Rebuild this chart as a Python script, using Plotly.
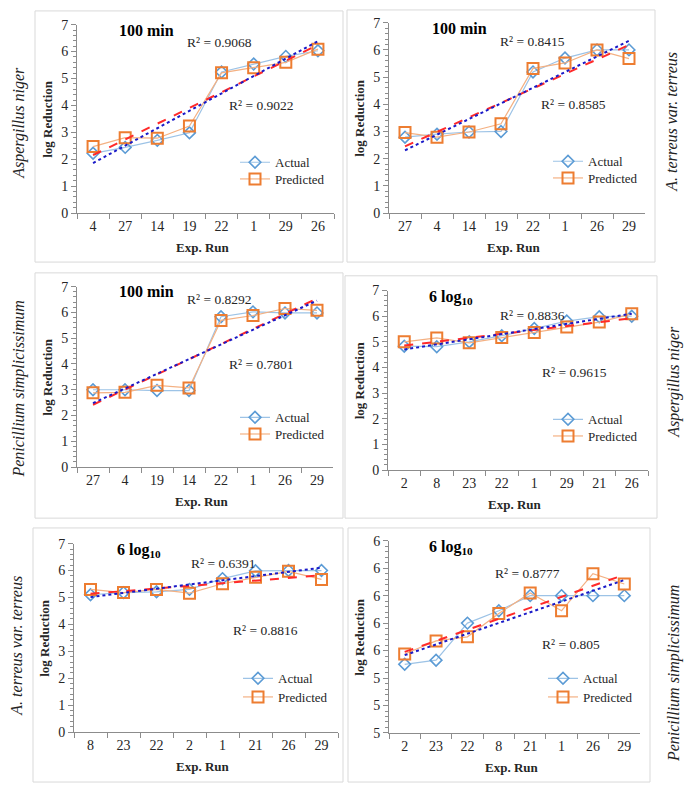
import numpy as np
import plotly.graph_objects as go

W, H = 685, 792

# ---------------- data ----------------
runs_p1 = ["4", "27", "14", "19", "22", "1", "29", "26"]
actual_p1 = [2.22, 2.44, 2.70, 2.98, 5.24, 5.54, 5.82, 6.03]
pred_p1 = [2.47, 2.80, 2.78, 3.23, 5.21, 5.40, 5.60, 6.09]

runs_p2 = ["27", "4", "14", "19", "22", "1", "26", "29"]
actual_p2 = [2.79, 2.90, 2.98, 3.00, 5.19, 5.70, 6.00, 6.00]
pred_p2 = [2.96, 2.79, 2.98, 3.28, 5.32, 5.52, 6.00, 5.68]

runs_p3 = ["27", "4", "19", "14", "22", "1", "26", "29"]
actual_p3 = [3.00, 3.00, 2.97, 2.97, 5.83, 6.02, 5.98, 5.98]
pred_p3 = [2.88, 2.90, 3.17, 3.07, 5.69, 5.88, 6.15, 6.08]

runs_p4 = ["2", "8", "23", "22", "1", "29", "21", "26"]
actual_p4 = [4.83, 4.81, 5.00, 5.24, 5.52, 5.81, 5.98, 6.00]
pred_p4 = [5.00, 5.15, 4.96, 5.17, 5.36, 5.58, 5.77, 6.09]

runs_p5 = ["8", "23", "22", "2", "1", "21", "26", "29"]
actual_p5 = [5.10, 5.18, 5.21, 5.30, 5.70, 5.99, 6.00, 6.00]
pred_p5 = [5.30, 5.18, 5.30, 5.16, 5.51, 5.75, 5.97, 5.67]

runs_p6 = ["2", "23", "22", "8", "21", "1", "26", "29"]
actual_p6 = [5.50, 5.53, 5.80, 5.89, 6.00, 6.00, 6.00, 6.00]
pred_p6 = [5.575, 5.67, 5.70, 5.87, 6.02, 5.89, 6.16, 6.085]

titles = ["<b>100 min</b>", "<b>100 min</b>", "<b>100 min</b>",
          "<b>6 log<sub>10</sub></b>", "<b>6 log<sub>10</sub></b>", "<b>6 log<sub>10</sub></b>"]
r2_upper = ["R² = 0.9068", "R² = 0.8415", "R² = 0.8292", "R² = 0.8836", "R² = 0.6391", "R² = 0.8777"]
r2_lower = ["R² = 0.9022", "R² = 0.8585", "R² = 0.7801", "R² = 0.9615", "R² = 0.8816", "R² = 0.805"]
species = ["Aspergillus niger", "A. terreus var. terreus", "Penicillium simplicissimum",
           "Aspergillus niger", "A. terreus var. terreus", "Penicillium simplicissimum"]

runs = [runs_p1, runs_p2, runs_p3, runs_p4, runs_p5, runs_p6]
actuals = [actual_p1, actual_p2, actual_p3, actual_p4, actual_p5, actual_p6]
preds = [pred_p1, pred_p2, pred_p3, pred_p4, pred_p5, pred_p6]

# ---------------- layout geometry (pixels) ----------------
areas = [(77, 334, 18, 210), (389, 645, 16, 210),
         (77, 333, 285, 469), (388, 648, 289, 472),
         (74, 338, 547, 739), (389, 640, 544, 740)]
yranges = [(0, 7), (0, 7), (0, 7), (0, 7), (0, 7), (5.0, 6.4)]
boxes = [(35, 343, 4, 260), (347, 655, 3, 260),
         (35, 343, 271, 521), (345, 657, 274, 521),
         (33, 343, 531, 790), (348, 650, 531, 790)]
title_pos = [(117, 24), (430, 22), (117, 290), (427, 296), (115, 554), (427, 551)]
r2u_pos = [(185, 36), (498, 35), (185, 298), (498, 314), (189, 567), (493, 577)]
r2l_pos = [(227, 100), (539, 99), (227, 364), (540, 373), (231, 636), (540, 650)]
# legend marker centre x, y of "Actual" and "Predicted" rows
leg_x = [255, 568, 255, 568, 258, 563]
leg_y = [(162, 179), (161, 178), (422, 439), (424, 441), (688, 707), (688, 707)]
species_pos = [(19, 118), (672, 117), (19, 390), (674, 382), (17, 651), (674, 680)]


def fx(px):
    return px / W


def fy(py):
    return 1 - py / H


FONT = "Liberation Serif, Times New Roman, serif"
AX = "#8c8c8c"
TXT = "#262626"

fig = go.Figure()
annotations = []
shapes = []
legends = {}

for i in range(6):
    k = "" if i == 0 else str(i + 1)
    xa, ya = "x" + k, "y" + k
    cats = runs[i]
    idx = np.arange(len(cats))
    la = "legend" if i == 0 else "legend%d" % (2 * i + 1)
    lp = "legend%d" % (2 * i + 2)

    fig.add_trace(go.Scatter(
        x=cats, y=actuals[i], xaxis=xa, yaxis=ya, mode="lines+markers", name="Actual",
        line=dict(color="#9DC3E6", width=1.2),
        marker=dict(symbol="diamond-open", size=9, color="#5B9BD5", line=dict(width=1.6)),
        legend=la))
    fig.add_trace(go.Scatter(
        x=cats, y=preds[i], xaxis=xa, yaxis=ya, mode="lines+markers", name="Predicted",
        line=dict(color="#F4B183", width=1.2),
        marker=dict(symbol="square-open", size=11, color="#ED7D31", line=dict(width=2)),
        legend=lp))

    # linear trendlines fitted to the data
    pa = np.polyfit(idx, actuals[i], 1)
    pp = np.polyfit(idx, preds[i], 1)
    fig.add_trace(go.Scatter(
        x=cats, y=np.polyval(pp, idx), xaxis=xa, yaxis=ya, mode="lines",
        line=dict(color="#FF2A2A", width=2, dash="dash"), showlegend=False, hoverinfo="skip"))
    fig.add_trace(go.Scatter(
        x=cats, y=np.polyval(pa, idx), xaxis=xa, yaxis=ya, mode="lines",
        line=dict(color="#1A1AC8", width=2, dash="dot"), showlegend=False, hoverinfo="skip"))

    for name, yy in ((la, leg_y[i][0]), (lp, leg_y[i][1])):
        legends[name] = dict(x=fx(leg_x[i] - 20), y=fy(yy - 19), xanchor="left", yanchor="top",
                             bgcolor="rgba(0,0,0,0)", font=dict(family=FONT, size=13, color=TXT),
                             itemwidth=30)

    x0, x1, yt, yb = areas[i]
    y0r, y1r = yranges[i]
    axis_common = dict(showgrid=False, zeroline=False, showline=True, linecolor=AX, linewidth=1,
                       ticks="outside", tickcolor=AX, ticklen=5,
                       tickfont=dict(family=FONT, size=14, color=TXT))
    fig.update_layout(**{
        "xaxis" + k: dict(domain=[fx(x0), fx(x1)], anchor=ya, type="category",
                          range=[-0.5, len(cats) - 0.5], tickson="boundaries", **axis_common),
        "yaxis" + k: dict(domain=[fy(yb), fy(yt)], anchor=xa, range=[y0r, y1r],
                          dtick=(1 if y1r - y0r > 2 else 0.2),
                          tickformat=("d" if y1r - y0r > 2 else ".0f"),
                          minor=dict(ticks="outside", ticklen=3, tickcolor=AX,
                                     dtick=(0.2 if y1r - y0r > 2 else 0.04)),
                          **axis_common),
    })

    # panel border
    bx0, bx1, byt, byb = boxes[i]
    shapes.append(dict(type="rect", xref="paper", yref="paper", x0=fx(bx0), x1=fx(bx1),
                       y0=fy(byb), y1=fy(byt), line=dict(color="#D9D9D9", width=1)))

    # axis titles
    annotations.append(dict(text="<b>log Reduction</b>", xref="paper", yref="paper",
                            x=fx(x0 - 29), y=fy((yt + yb) / 2), textangle=-90, showarrow=False,
                            font=dict(family=FONT, size=13, color=TXT), xanchor="center", yanchor="middle"))
    annotations.append(dict(text="<b>Exp. Run</b>", xref="paper", yref="paper",
                            x=fx((x0 + x1) / 2 - 3), y=fy(yb + 35), showarrow=False,
                            font=dict(family=FONT, size=13, color=TXT), xanchor="center", yanchor="middle"))
    # panel title and R2
    annotations.append(dict(text=titles[i], xref="paper", yref="paper",
                            x=fx(title_pos[i][0]), y=fy(title_pos[i][1]), showarrow=False,
                            font=dict(family=FONT, size=16, color="#000000"), xanchor="left", yanchor="middle"))
    annotations.append(dict(text=r2_upper[i], xref="paper", yref="paper",
                            x=fx(r2u_pos[i][0]), y=fy(r2u_pos[i][1]), showarrow=False,
                            font=dict(family=FONT, size=13.5, color=TXT), xanchor="left", yanchor="middle"))
    annotations.append(dict(text=r2_lower[i], xref="paper", yref="paper",
                            x=fx(r2l_pos[i][0]), y=fy(r2l_pos[i][1]), showarrow=False,
                            font=dict(family=FONT, size=13.5, color=TXT), xanchor="left", yanchor="middle"))
    # species label
    annotations.append(dict(text="<i>" + species[i] + "</i>", xref="paper", yref="paper",
                            x=fx(species_pos[i][0]), y=fy(species_pos[i][1]), textangle=-90,
                            showarrow=False, font=dict(family=FONT, size=16, color="#222222"),
                            xanchor="center", yanchor="middle"))

fig.update_layout(width=W, height=H, margin=dict(l=0, r=0, t=0, b=0),
                  paper_bgcolor="white", plot_bgcolor="white",
                  annotations=annotations, shapes=shapes, showlegend=True, **legends)

fig.write_html("out.html", config={"displayModeBar": False},
               post_script="document.body.style.margin='0';")
